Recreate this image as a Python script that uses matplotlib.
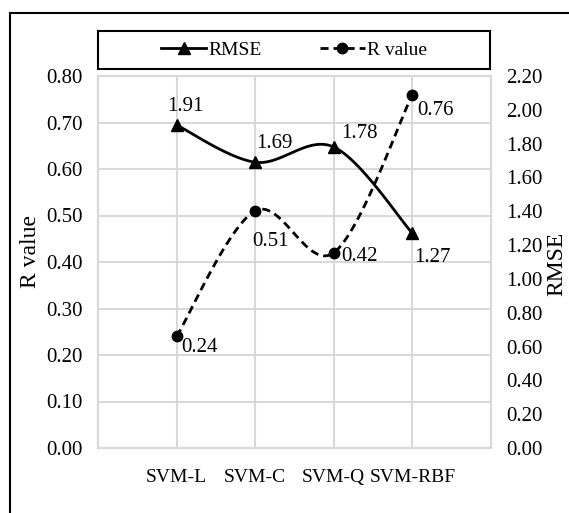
import numpy as np
import matplotlib
matplotlib.use("Agg")
import matplotlib.pyplot as plt
from matplotlib.lines import Line2D
from matplotlib.patches import Rectangle

plt.rcParams['font.family'] = ['Liberation Serif', 'DejaVu Serif']

# ---- data ----
models = ["SVM-L", "SVM-C", "SVM-Q", "SVM-RBF"]
rmse = [1.91, 1.69, 1.78, 1.27]
r_value = [0.24, 0.51, 0.42, 0.76]
r_ticks = [0.0, 0.1, 0.2, 0.3, 0.4, 0.5, 0.6, 0.7, 0.8]
rmse_ticks = [0.0, 0.2, 0.4, 0.6, 0.8, 1.0, 1.2, 1.4, 1.6, 1.8, 2.0, 2.2]

# label offsets in pixels (dx, dy)
rmse_label_off = [(9, 19), (19, 19), (26, 14), (20, -24)]
r_label_off = [(23, -11), (15, -31), (26, -4), (23, -16)]

W, H = 569, 513
FS = 15
CAT_FS = 14
GRID = "#d9d9d9"

fig = plt.figure(figsize=(W / 100, H / 100), dpi=100)
ax = fig.add_axes([98 / W, 1 - 448 / H, 393 / W, 372 / H])
ax2 = ax.twinx()

x = np.arange(len(models))

ax.set_xlim(-1, 4)
ax.set_ylim(0, 0.8)
ax2.set_ylim(0, 2.2)

# x ticks: grid lines at every slot boundary, labels only under the models
ax.set_xticks(np.arange(-1, 5))
ax.set_xticklabels([""] + models + [""])
ax.set_yticks(r_ticks)
ax.set_yticklabels([f"{v:.2f}" for v in r_ticks])
ax2.set_yticks(rmse_ticks)
ax2.set_yticklabels([f"{v:.2f}" for v in rmse_ticks])

ax.grid(True, color=GRID, lw=1.5)
ax.set_axisbelow(True)
ax.tick_params(axis="both", length=0)
ax.tick_params(axis="y", pad=11, labelsize=FS)
ax.tick_params(axis="x", pad=15, labelsize=CAT_FS)
ax2.tick_params(axis="y", length=0, labelsize=FS, pad=11)
for a in (ax, ax2):
    for s in a.spines.values():
        s.set_color(GRID)
        s.set_linewidth(1.5)


def smooth(axis, xs, ys, n=40):
    """Excel-style smoothed line: Catmull-Rom Bezier built in display space."""
    pts = axis.transData.transform(np.column_stack([xs, ys]))
    P = np.vstack([pts[0], pts, pts[-1]])
    out = []
    t = np.linspace(0, 1, n)[:, None]
    for i in range(len(pts) - 1):
        p0, p1, p2, p3 = P[i], P[i + 1], P[i + 2], P[i + 3]
        c1 = p1 + (p2 - p0) / 6
        c2 = p2 - (p3 - p1) / 6
        seg = ((1 - t) ** 3) * p1 + 3 * ((1 - t) ** 2) * t * c1 \
            + 3 * (1 - t) * t ** 2 * c2 + t ** 3 * p2
        out.append(seg if i == 0 else seg[1:])
    curve = axis.transData.inverted().transform(np.vstack(out))
    return curve[:, 0], curve[:, 1]


LW = 2.0
DASH = (0, (2.9, 1.8))

cx, cy = smooth(ax, x, r_value)
ax.plot(cx, cy, color="black", lw=LW, linestyle=DASH)
ax.plot(x, r_value, "o", color="black", ms=7.5, ls="none")

cx, cy = smooth(ax2, x, rmse)
ax2.plot(cx, cy, color="black", lw=LW, solid_capstyle="butt")
ax2.plot(x, rmse, "^", color="black", ms=8, ls="none")

for xi, v, off in zip(x, rmse, rmse_label_off):
    ax2.annotate(f"{v:.2f}", (xi, v), xytext=off, textcoords="offset pixels",
                 ha="center", va="center", fontsize=FS)
for xi, v, off in zip(x, r_value, r_label_off):
    ax.annotate(f"{v:.2f}", (xi, v), xytext=off, textcoords="offset pixels",
                ha="center", va="center", fontsize=FS)

# axis titles
fig.text(31 / W, 1 - 252 / H, "R value", rotation=90, ha="center", va="center",
         fontsize=17)
fig.text(557 / W, 1 - 264 / H, "RMSE", rotation=90, ha="center", va="center",
         fontsize=17)

# legend with its own box
handles = [
    Line2D([], [], color="black", lw=LW, marker="^", ms=8),
    Line2D([], [], color="black", lw=LW, linestyle=DASH, marker="o", ms=7.5),
]
fig.legend(handles, ["RMSE", "R value"], loc="center",
           bbox_to_anchor=(294 / W, 1 - 50 / H), ncol=2, frameon=False,
           fontsize=14, handlelength=2.3, handletextpad=0.1,
           columnspacing=3.0, borderaxespad=0, borderpad=0)
fig.add_artist(Rectangle((97.7 / W, 1 - 69 / H), 392.3 / W, 38.3 / H,
                         transform=fig.transFigure, fill=False,
                         ec="black", lw=1.5))

# outer chart frame
fig.add_artist(Rectangle((10 / W, -0.2), 1.5, 1.2 - 12.7 / H,
                         transform=fig.transFigure, fill=False,
                         ec="black", lw=1.5))

fig.savefig("out.png", dpi=100)
